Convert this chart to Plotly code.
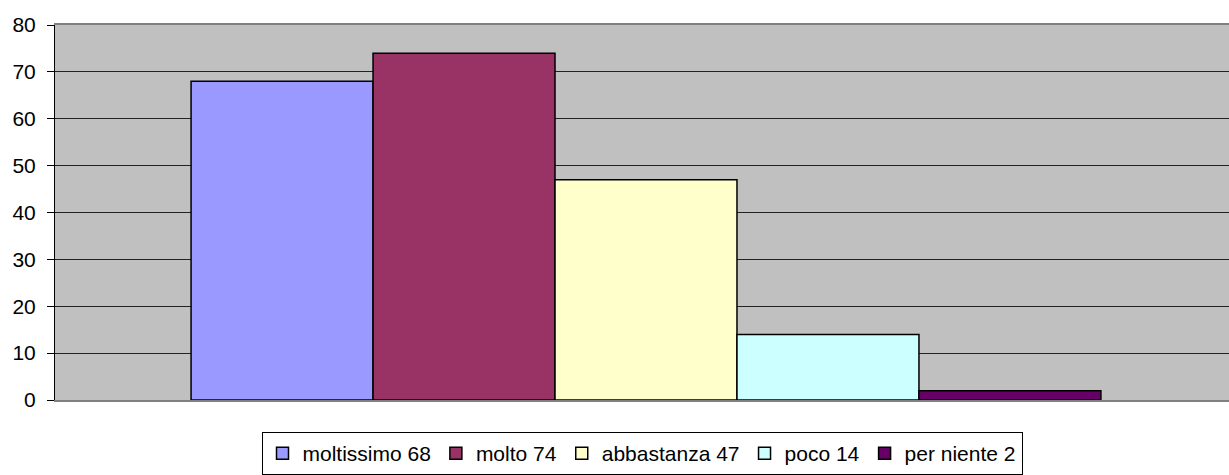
import plotly.graph_objects as go

# dati
categorie = ["moltissimo", "molto", "abbastanza", "poco", "per niente"]
valori = [68, 74, 47, 14, 2]
colori = ["#9999FF", "#993366", "#FFFFCC", "#CCFFFF", "#660066"]

fig = go.Figure()
for nome, v, c in zip(categorie, valori, colori):
    fig.add_trace(go.Bar(
        x=[""], y=[v], name=f"{nome} {v}",
        marker=dict(color=c, line=dict(color="black", width=1.5)),
    ))

fig.update_layout(
    width=1229, height=475,
    margin=dict(l=55, r=0, t=25, b=75),
    paper_bgcolor="white",
    plot_bgcolor="#C0C0C0",
    barmode="group",
    bargap=0.225,
    bargroupgap=0,
    font=dict(family="Liberation Sans, Arial, sans-serif", size=21, color="black"),
    showlegend=True,
    legend=dict(
        orientation="h", x=0.5, xanchor="center",
        yref="container", y=-0.018, yanchor="bottom",
        bordercolor="black", borderwidth=1,
        font=dict(size=21),
        itemwidth=30, traceorder="normal",
        tracegroupgap=0,
    ),
)
fig.update_xaxes(
    range=[-0.5034, 0.4966],
    showticklabels=False, showgrid=False, zeroline=False,
    showline=True, linecolor="#808080", linewidth=2, mirror=True,
    automargin=False,
)
fig.update_yaxes(
    range=[0, 80], dtick=10,
    showgrid=True, gridcolor="#222222", gridwidth=1,
    zeroline=False,
    showline=True, linecolor="black", linewidth=1,
    ticks="outside", ticklen=7, tickcolor="black",
    ticklabelstandoff=7,
    automargin=False,
)

# niente margine della pagina
fig.write_html("out.html", config={"displayModeBar": False},
               post_script="document.body.style.margin='0';")
